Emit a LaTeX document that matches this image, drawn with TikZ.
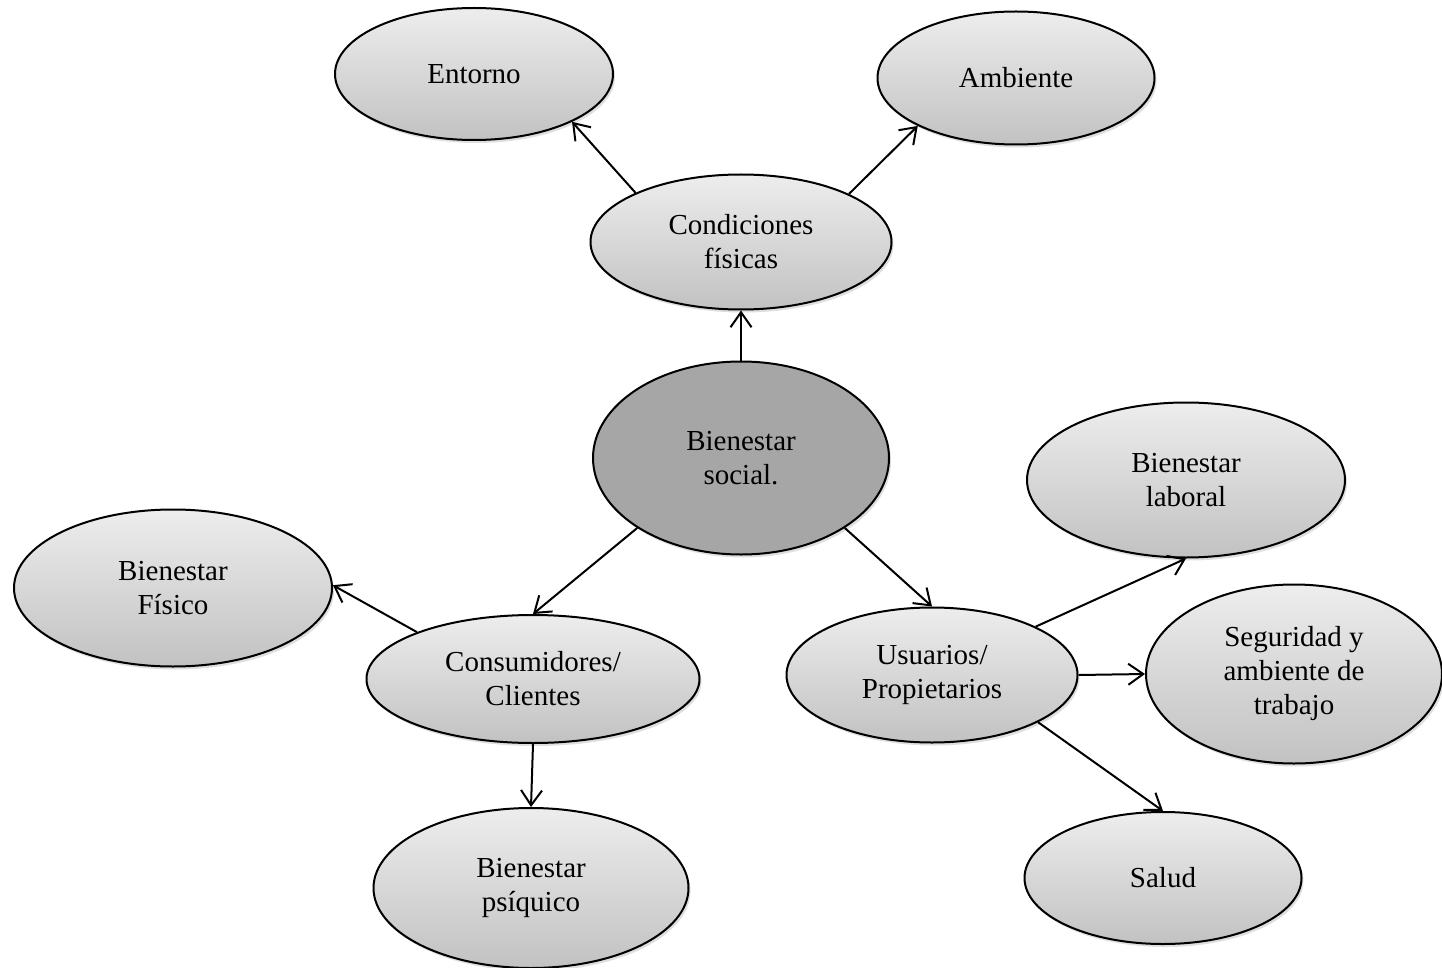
\documentclass[tikz,border=0pt]{standalone}
\usepackage{fontspec}
\setmainfont{Liberation Serif}
\usetikzlibrary{shapes.geometric,arrows.meta,shadows}
\begin{document}
\begin{tikzpicture}[x=1pt,y=-1pt,
  bub/.style={ellipse,draw=black,line width=2pt,inner sep=0pt,align=center,
    top color=gray!14,bottom color=gray!48,
    drop shadow={opacity=0.25,shadow xshift=2pt,shadow yshift=-3pt},
    font=\fontsize{29}{34}\selectfont},
  hub/.style={bub,top color=gray!70,bottom color=gray!70},
  conn/.style={line width=2pt,-{Straight Barb[length=15pt,width=21pt,line width=2pt]}}]
\useasboundingbox (0,0) rectangle (1442,968);
\fill[white] (0,0) rectangle (1442,968);
\node[bub,minimum width=278pt,minimum height=132pt] (ent) at (474,74) {Entorno};
\node[bub,minimum width=277pt,minimum height=133pt] (amb) at (1016,78) {Ambiente};
\node[bub,minimum width=301pt,minimum height=135pt] (cond) at (741,242) {Condiciones\\físicas};
\node[hub,minimum width=296pt,minimum height=193pt] (soc) at (741,458) {Bienestar\\social.};
\node[bub,minimum width=318pt,minimum height=155pt] (lab) at (1186,480) {Bienestar\\laboral};
\node[bub,minimum width=296pt,minimum height=179pt] (seg) at (1294,674) {Seguridad y\\ambiente de\\trabajo};
\node[bub,minimum width=318pt,minimum height=157pt] (fis) at (173,588) {Bienestar\\Físico};
\node[bub,minimum width=333pt,minimum height=128pt] (cons) at (533,679) {Consumidores/\\Clientes};
\node[bub,minimum width=291pt,minimum height=135pt] (usu) at (932,675) {Usuarios/\\Propietarios};
\node[bub,minimum width=315pt,minimum height=160pt] (psi) at (531,888) {Bienestar\\psíquico};
\node[bub,minimum width=277pt,minimum height=132pt] (sal) at (1163,878) {Salud};
\draw[conn] (cond.155.2) -- (ent.-26);
\draw[conn] (cond.24.6) -- (amb.206);
\draw[conn] (soc.north) -- (cond.south);
\draw[conn] (soc.214.2) -- (cons.90);
\draw[conn] (soc.-34) -- (usu.90);
\draw[conn] (cons.158) -- (fis.1);
\draw[conn] (cons.south) -- (psi.north);
\draw[conn] (usu.25) -- (lab.270);
\draw[conn] (usu.east) -- (seg.west);
\draw[conn] (usu.-24.6) -- (sal.90);
\end{tikzpicture}
\end{document}
